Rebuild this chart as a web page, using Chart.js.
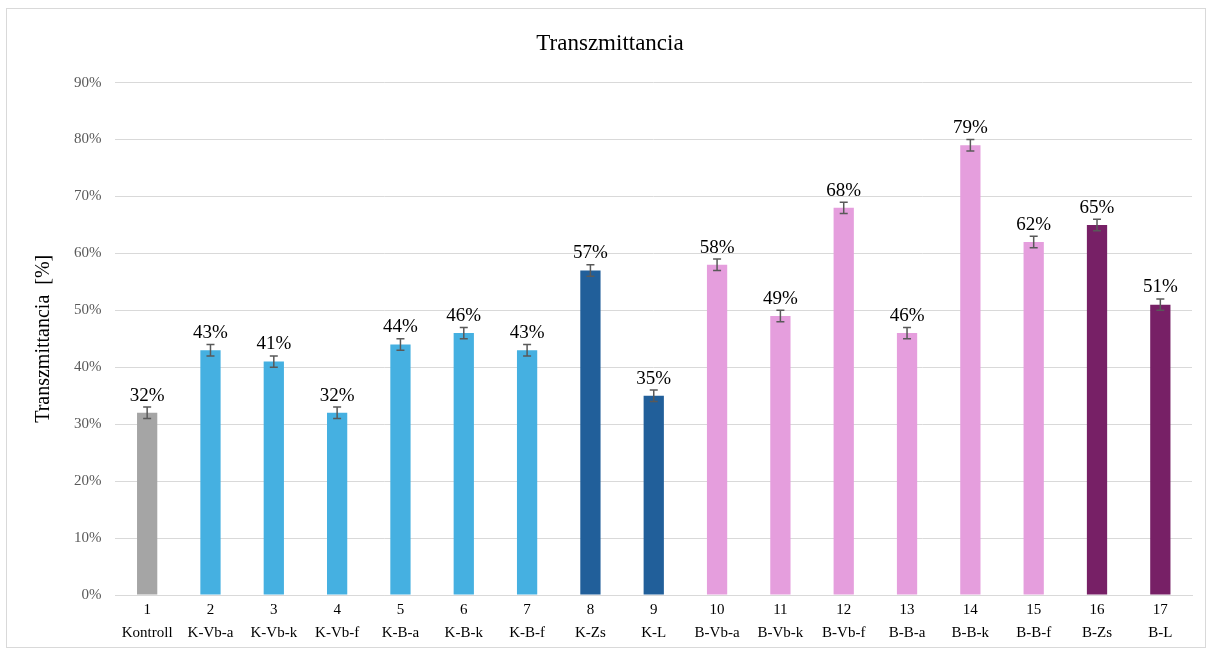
<!DOCTYPE html>
<html>
<head>
<meta charset="utf-8">
<script src="https://cdn.jsdelivr.net/npm/chart.js@4"></script>
<style>
  body { margin: 0; background: #fff; }
  #box { position: absolute; left: 6px; top: 8px; width: 1200px; height: 640px; border: 1px solid #d9d9d9; box-sizing: border-box; }
</style>
</head>
<body>
<div id="box"><canvas id="myChart"></canvas></div>
<script>
const numbers = ['1','2','3','4','5','6','7','8','9','10','11','12','13','14','15','16','17'];
const names = ['Kontroll','K-Vb-a','K-Vb-k','K-Vb-f','K-B-a','K-B-k','K-B-f','K-Zs','K-L','B-Vb-a','B-Vb-k','B-Vb-f','B-B-a','B-B-k','B-B-f','B-Zs','B-L'];
const values = [32, 43, 41, 32, 44, 46, 43, 57, 35, 58, 49, 68, 46, 79, 62, 65, 51];
const errors = [1, 1, 1, 1, 1, 1, 1, 1, 1, 1, 1, 1, 1, 1, 1, 1, 1];
const barColors = ['#a5a5a5','#45b0e1','#45b0e1','#45b0e1','#45b0e1','#45b0e1','#45b0e1','#215f9a','#215f9a',
  '#e59edd','#e59edd','#e59edd','#e59edd','#e59edd','#e59edd','#772066','#772066'];

const errorAndLabels = {
  id: 'errorAndLabels',
  afterDatasetsDraw(chart) {
    const ctx = chart.ctx;
    const meta = chart.getDatasetMeta(0);
    const y = chart.scales.y;
    ctx.save();
    meta.data.forEach((bar, i) => {
      const x = bar.x;
      const top = y.getPixelForValue(values[i] + errors[i]);
      const bot = y.getPixelForValue(values[i] - errors[i]);
      ctx.strokeStyle = '#595959';
      ctx.lineWidth = 1.5;
      ctx.beginPath();
      ctx.moveTo(x, top); ctx.lineTo(x, bot);
      ctx.moveTo(x - 4, top); ctx.lineTo(x + 4, top);
      ctx.moveTo(x - 4, bot); ctx.lineTo(x + 4, bot);
      ctx.stroke();
      ctx.fillStyle = '#000';
      ctx.font = '19px "Liberation Serif"';
      ctx.textAlign = 'center';
      ctx.textBaseline = 'bottom';
      ctx.fillText(values[i] + '%', x, top - 2);
    });
    ctx.restore();
  }
};

const ctx = document.getElementById('myChart').getContext('2d');
const myChart = new Chart(ctx, {
  type: 'bar',
  data: {
    labels: numbers.map((n, i) => [n, names[i]]),
    datasets: [{
      data: values,
      backgroundColor: barColors,
      barPercentage: 0.32,
      categoryPercentage: 1
    }]
  },
  options: {
    responsive: true,
    maintainAspectRatio: false,
    animation: false,
    layout: { padding: { left: 21, right: 13, top: 21, bottom: -1 } },
    plugins: {
      legend: { display: false },
      tooltip: { enabled: false },
      title: {
        display: true,
        text: 'Transzmittancia',
        color: '#000',
        font: { family: 'Liberation Serif', size: 23, weight: 'normal' },
        padding: { top: 0, bottom: 25 }
      }
    },
    scales: {
      x: {
        grid: { display: false, drawTicks: false },
        border: { color: '#d9d9d9' },
        ticks: {
          color: '#000',
          font: { family: 'Liberation Serif', size: 15, lineHeight: 1.5 },
          padding: 4,
          maxRotation: 0,
          autoSkip: false
        }
      },
      y: {
        min: 0,
        max: 90,
        grid: { color: '#d9d9d9', drawTicks: false },
        border: { display: false },
        ticks: {
          stepSize: 10,
          color: '#595959',
          padding: 14,
          font: { family: 'Liberation Serif', size: 15 },
          callback: (v) => v + '%'
        },
        title: {
          display: true,
          text: 'Transzmittancia  [%]',
          color: '#000',
          font: { family: 'Liberation Serif', size: 20 },
          padding: { bottom: 4 }
        }
      }
    }
  },
  plugins: [errorAndLabels]
});
</script>
</body>
</html>
